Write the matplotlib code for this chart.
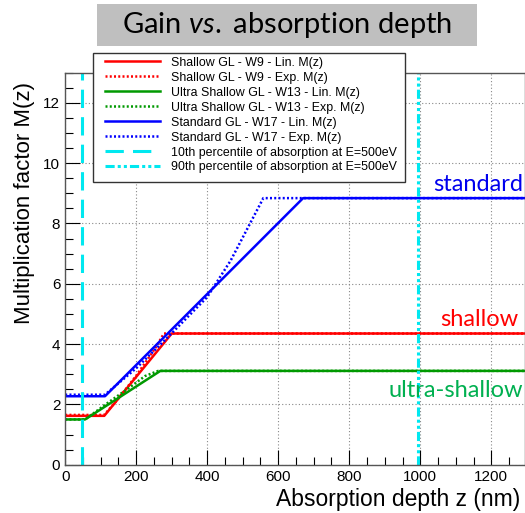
import matplotlib
matplotlib.use("Agg")
import matplotlib.pyplot as plt
from matplotlib.patches import Rectangle
from matplotlib.ticker import MultipleLocator

plt.rcParams['font.family'] = ['Liberation Sans', 'DejaVu Sans']
plt.rcParams['mathtext.fontset'] = 'custom'
plt.rcParams['mathtext.rm'] = 'Lato'
plt.rcParams['mathtext.it'] = 'Lato:italic'

# gain curves M(z), read point by point (z in nm)
shallow_lin_z = [0, 110, 300, 1300]
shallow_lin_m = [1.62, 1.62, 4.35, 4.35]
shallow_exp_z = [0, 110, 150, 200, 253, 278, 1300]
shallow_exp_m = [1.65, 1.65, 2.2, 2.95, 3.85, 4.35, 4.35]

ultra_lin_z = [0, 56, 268, 1300]
ultra_lin_m = [1.5, 1.5, 3.11, 3.11]
ultra_exp_z = [0, 56, 120, 180, 225, 262, 1300]
ultra_exp_m = [1.5, 1.5, 2.05, 2.55, 2.94, 3.11, 3.11]

standard_lin_z = [0, 112, 400, 670, 1300]
standard_lin_m = [2.27, 2.27, 5.66, 8.84, 8.84]
standard_exp_z = [0, 112, 200, 286, 400, 466, 558, 1300]
standard_exp_m = [2.32, 2.32, 3.2, 4.19, 5.56, 6.77, 8.84, 8.84]

p10_z = 47     # 10th percentile of absorption at 500 eV
p90_z = 995    # 90th percentile

red = '#ff0000'
green = '#009900'
blue = '#0000ff'
cyan = '#00e8f0'

fig = plt.figure(figsize=(5.25, 5.13), dpi=100)
ax = fig.add_axes([0.1242, 0.0942, 0.8758, 0.7641])

lw = 1.8
dots = (0, (0.8, 0.9))
ax.plot(shallow_lin_z, shallow_lin_m, color=red, lw=lw, label='Shallow GL - W9 - Lin. M(z)')
ax.plot(shallow_exp_z, shallow_exp_m, color=red, lw=lw, ls=dots, label='Shallow GL - W9 - Exp. M(z)')
ax.plot(ultra_lin_z, ultra_lin_m, color=green, lw=lw, label='Ultra Shallow GL - W13 - Lin. M(z)')
ax.plot(ultra_exp_z, ultra_exp_m, color=green, lw=lw, ls=dots, label='Ultra Shallow GL - W13 - Exp. M(z)')
ax.plot(standard_lin_z, standard_lin_m, color=blue, lw=lw, label='Standard GL - W17 - Lin. M(z)')
ax.plot(standard_exp_z, standard_exp_m, color=blue, lw=lw, ls=dots, label='Standard GL - W17 - Exp. M(z)')
ax.axvline(p10_z, color=cyan, lw=2.2, ls=(0, (6, 3)), label='10th percentile of absorption at E=500eV')
ax.axvline(p90_z, color=cyan, lw=2.2, ls=(0, (3, 1, 1, 1, 1, 1)), label='90th percentile of absorption at E=500eV')

ax.set_xlim(0, 1295)
ax.set_ylim(0, 13)
ax.xaxis.set_major_locator(MultipleLocator(200))
ax.xaxis.set_minor_locator(MultipleLocator(50))
ax.yaxis.set_major_locator(MultipleLocator(2))
ax.yaxis.set_minor_locator(MultipleLocator(0.5))
ax.tick_params(which='both', direction='in', labelsize=11, colors='black')
ax.tick_params(which='major', length=11, width=0.8)
ax.tick_params(which='minor', length=5.5, width=0.8)
ax.tick_params(axis='x', pad=4)
ax.grid(True, which='major', color='#888888', ls=(0, (1, 2)), lw=0.8)
for s in ax.spines.values():
    s.set_color('#555555')
    s.set_linewidth(1.0)

ax.set_xlabel('Absorption depth z (nm)', fontsize=16.5, loc='right', labelpad=3)
ax.xaxis.label.set_x(0.99)
ax.set_ylabel('Multiplication factor M(z)', fontsize=16, loc='top', labelpad=6)
ax.yaxis.label.set_y(0.975)

# curve names on the right
ax.text(0.995, 8.95, 'standard', color='#0000ee', fontsize=17, family='Lato', ha='right', va='bottom', transform=ax.get_yaxis_transform())
ax.text(0.985, 4.48, 'shallow', color='#ff0000', fontsize=17, family='Lato', ha='right', va='bottom', transform=ax.get_yaxis_transform())
ax.text(0.995, 2.1, 'ultra-shallow', color='#00b050', fontsize=17, family='Lato', ha='right', va='bottom', transform=ax.get_yaxis_transform())

# legend box drawn separately so the entries can sit inset from its edge
fig.patches.append(Rectangle((93 / 525, 1 - 182 / 513), 312 / 525, 129 / 513,
                             transform=fig.transFigure, facecolor='white',
                             edgecolor='#333333', lw=1.0, zorder=5))
handles, labels = ax.get_legend_handles_labels()
leg = fig.legend(handles, labels, loc='upper left',
                 bbox_to_anchor=(101 / 525, 1 - 53 / 513), bbox_transform=fig.transFigure,
                 fontsize=8.9, frameon=False, handlelength=4.5, handletextpad=0.9,
                 labelspacing=0.24, borderpad=0.3, borderaxespad=0)
leg.set_zorder(6)

# title banner
fig.patches.append(Rectangle((97 / 525, 1 - 46 / 513), 380 / 525, 42 / 513,
                             transform=fig.transFigure, facecolor='#bfbfbf', edgecolor='none'))
fig.text(287 / 525, 1 - 25 / 513, r'Gain $\mathit{vs.}$ absorption depth', family='Lato',
         fontsize=21, ha='center', va='center')

fig.savefig('out.png', dpi=100)
